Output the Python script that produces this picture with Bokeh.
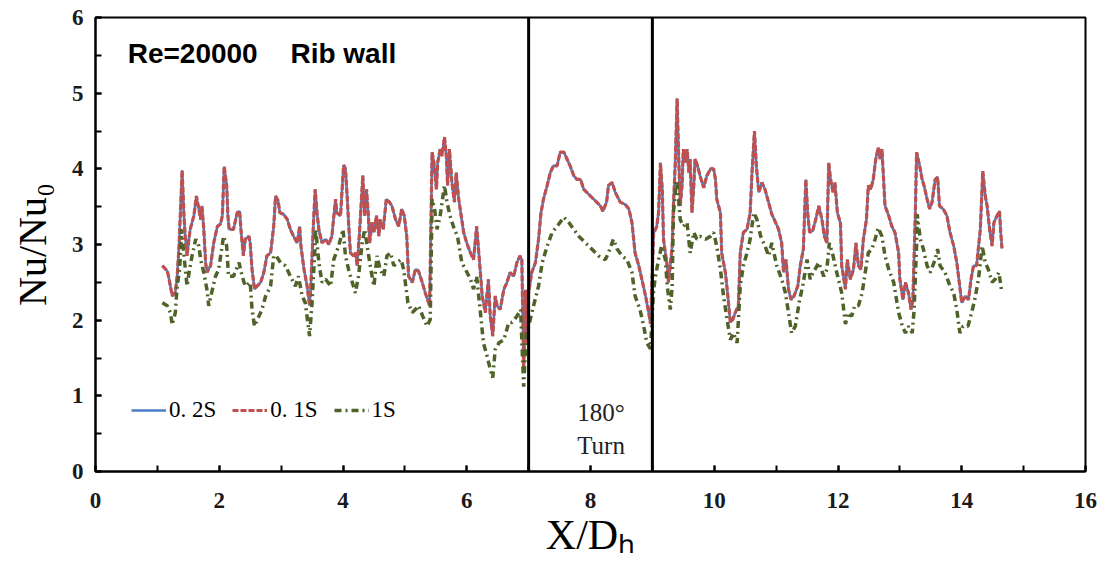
from bokeh.plotting import figure
from bokeh.models import Range1d, SingleIntervalTicker, Span, Legend, LegendItem
from bokeh.core.properties import value
from bokeh.embed import file_html
from bokeh.resources import INLINE

# ---------------- data ----------------
x_rib = [1.08, 1.16, 1.18, 1.24, 1.29, 1.32, 1.35, 1.40, 1.43, 1.45, 1.48, 1.51, 1.53, 1.56, 1.59, 1.63, 1.67, 1.70,
         1.72, 1.75, 1.78, 1.80, 1.86, 1.91, 1.97, 2.02, 2.05, 2.08, 2.12, 2.14, 2.16, 2.23, 2.29, 2.33, 2.35, 2.39,
         2.42, 2.48, 2.50, 2.53, 2.57, 2.61, 2.67, 2.72, 2.77, 2.83, 2.88, 2.91, 2.95, 2.98, 3.04, 3.10, 3.15, 3.20,
         3.26, 3.30, 3.32, 3.37, 3.42, 3.46, 3.48, 3.52, 3.55, 3.58, 3.61, 3.66, 3.72, 3.77, 3.82, 3.88, 3.90, 3.96,
         4.01, 4.04, 4.07, 4.09, 4.12, 4.17, 4.20, 4.23, 4.27, 4.32, 4.35, 4.38, 4.41, 4.43, 4.47, 4.50, 4.54, 4.58,
         4.60, 4.65, 4.70, 4.75, 4.79, 4.85, 4.90, 4.95, 4.99, 5.03, 5.06, 5.12, 5.17, 5.22, 5.28, 5.33, 5.40, 5.44,
         5.47, 5.51, 5.53, 5.57, 5.60, 5.64, 5.67, 5.69, 5.72, 5.76, 5.80, 5.83, 5.87, 5.91, 5.95, 6.00, 6.06, 6.11,
         6.16, 6.19, 6.25, 6.30, 6.35, 6.38, 6.42, 6.46, 6.49, 6.54, 6.60, 6.65, 6.70, 6.76, 6.81, 6.86, 6.89, 6.92,
         6.95, 6.98, 7.00, 7.05, 7.11, 7.16, 7.20, 7.24, 7.30, 7.35, 7.40, 7.46, 7.51, 7.57, 7.62, 7.67, 7.73, 7.78,
         7.84, 7.89, 7.94, 8.00, 8.05, 8.10, 8.16, 8.20, 8.26, 8.29, 8.35, 8.40, 8.48, 8.56, 8.62, 8.67, 8.72, 8.78,
         8.83, 8.89, 8.94, 8.97, 9.02, 9.05, 9.07, 9.10, 9.13, 9.16, 9.18, 9.21, 9.24, 9.26, 9.29, 9.32, 9.34, 9.37,
         9.40, 9.42, 9.45, 9.48, 9.50, 9.53, 9.56, 9.59, 9.61, 9.64, 9.67, 9.69, 9.73, 9.77, 9.83, 9.88, 9.94, 9.99,
         10.02, 10.04, 10.10, 10.12, 10.18, 10.22, 10.26, 10.30, 10.34, 10.39, 10.42, 10.47, 10.53, 10.58, 10.61,
         10.65, 10.68, 10.72, 10.77, 10.82, 10.88, 10.93, 10.97, 11.04, 11.09, 11.12, 11.16, 11.20, 11.24, 11.29,
         11.35, 11.39, 11.44, 11.48, 11.51, 11.54, 11.59, 11.64, 11.69, 11.74, 11.78, 11.82, 11.85, 11.88, 11.92,
         11.95, 11.99, 12.04, 12.06, 12.12, 12.15, 12.20, 12.25, 12.29, 12.33, 12.37, 12.41, 12.46, 12.49, 12.53,
         12.57, 12.61, 12.65, 12.68, 12.71, 12.76, 12.82, 12.87, 12.92, 12.98, 13.00, 13.05, 13.09, 13.14, 13.18,
         13.21, 13.25, 13.27, 13.32, 13.36, 13.39, 13.44, 13.48, 13.52, 13.57, 13.61, 13.64, 13.70, 13.76, 13.81,
         13.87, 13.92, 13.96, 14.00, 14.06, 14.11, 14.15, 14.19, 14.24, 14.30, 14.34, 14.38, 14.41, 14.45, 14.49,
         14.52, 14.57, 14.61, 14.63, 14.65]

nu_02s = [2.72, 2.65, 2.58, 2.32, 2.37, 2.58, 2.98, 3.98, 3.38, 3.11, 2.85, 3.07, 3.20, 3.29, 3.38, 3.64, 3.47, 3.33,
          3.51, 3.20, 2.76, 2.63, 2.72, 3.02, 3.24, 3.27, 3.38, 4.03, 3.78, 3.38, 3.20, 3.20, 3.42, 3.44, 3.20, 2.85,
          3.07, 3.11, 3.02, 2.67, 2.41, 2.45, 2.50, 2.63, 2.85, 2.89, 3.24, 3.64, 3.58, 3.42, 3.40, 3.33, 3.20, 3.11,
          3.02, 3.24, 2.98, 2.67, 2.45, 2.19, 2.45, 3.24, 3.73, 3.42, 3.20, 3.02, 3.07, 3.00, 3.11, 3.60, 3.42, 3.38,
          4.05, 4.00, 3.60, 3.29, 2.89, 2.85, 2.89, 2.72, 3.20, 3.91, 3.38, 3.73, 3.38, 3.02, 3.29, 3.16, 3.38, 3.11,
          3.33, 3.20, 3.60, 3.56, 3.51, 3.33, 3.24, 3.47, 3.38, 3.11, 2.58, 2.50, 2.67, 2.65, 2.50, 2.36, 2.19, 4.22,
          4.08, 3.73, 4.08, 4.26, 4.17, 4.42, 4.17, 3.78, 4.26, 3.82, 3.56, 3.95, 3.60, 3.38, 3.16, 3.02, 2.89, 2.80,
          3.24, 2.94, 2.32, 2.10, 2.54, 2.05, 1.79, 2.32, 2.19, 2.14, 2.41, 2.50, 2.63, 2.58, 2.76, 2.85, 2.80, 1.35,
          2.40, 1.70, 2.36, 2.63, 2.76, 3.07, 3.42, 3.60, 3.78, 3.95, 4.04, 4.04, 4.22, 4.22, 4.13, 4.04, 3.91, 3.86,
          3.86, 3.73, 3.69, 3.64, 3.60, 3.56, 3.51, 3.44, 3.56, 3.78, 3.82, 3.69, 3.56, 3.53, 3.47, 3.29, 2.89, 2.72,
          2.54, 2.32, 2.10, 1.95, 3.15, 3.20, 3.24, 3.42, 4.08, 3.73, 3.07, 2.89, 2.72, 2.50, 2.72, 2.98, 3.51, 4.08,
          4.93, 4.30, 3.51, 3.78, 4.26, 4.08, 4.26, 3.95, 4.13, 3.42, 3.78, 4.13, 4.04, 3.91, 3.75, 3.91, 4.00, 4.00,
          3.86, 3.60, 3.42, 2.89, 2.63, 2.32, 1.97, 2.01, 2.10, 2.19, 2.89, 3.16, 3.20, 3.42, 3.95,
          4.50, 4.04, 3.69, 3.82, 3.73, 3.55, 3.40, 3.33, 3.20, 3.02, 2.63, 2.80, 2.41, 2.27, 2.32,
          2.45, 2.72, 2.94, 3.86, 3.42, 3.16, 3.18, 3.33, 3.51, 3.33, 3.11, 3.02, 4.08, 3.86, 3.69,
          3.82, 3.42, 3.28, 2.72, 2.41, 2.80, 2.54, 2.67, 3.02, 2.72, 2.67, 3.07, 3.33, 3.78, 3.73,
          3.86, 4.13, 4.28, 4.13, 4.26, 3.51, 3.38, 3.24, 3.16, 2.89, 2.54, 2.27, 2.50, 2.36, 2.14,
          2.27, 3.42, 4.22, 4.04, 3.86, 3.78, 3.60, 3.47, 3.56, 3.86, 3.89, 3.51, 3.47, 3.38, 3.16,
          2.98, 2.76, 2.50, 2.23, 2.32, 2.27, 2.54, 2.72, 2.72, 3.20, 3.97, 3.64, 3.51, 3.20, 2.98,
          3.29, 3.38, 3.44, 3.16, 2.95]

# 0.1S overlies 0.2S almost exactly in the picture
nu_01s = list(nu_02s)

x_1s = [1.08, 1.16, 1.21, 1.24, 1.29, 1.32, 1.36, 1.39, 1.43, 1.48, 1.52, 1.56, 1.62, 1.67, 1.70, 1.75, 1.80, 1.83,
        1.89, 1.94, 1.99, 2.07, 2.12, 2.15, 2.23, 2.32, 2.37, 2.42, 2.50, 2.53, 2.57, 2.64, 2.69, 2.75, 2.83, 2.88,
        2.92, 2.99, 3.07, 3.15, 3.23, 3.28, 3.34, 3.39, 3.46, 3.50, 3.54, 3.56, 3.61, 3.66, 3.72, 3.80, 3.85, 3.93,
        4.00, 4.04, 4.09, 4.15, 4.20, 4.25, 4.31, 4.35, 4.39, 4.45, 4.50, 4.55, 4.60, 4.66, 4.71, 4.77, 4.82, 4.87,
        4.94, 4.98, 5.05, 5.12, 5.17, 5.22, 5.29, 5.36, 5.41, 5.44, 5.48, 5.52, 5.57, 5.64, 5.68, 5.73, 5.80, 5.85,
        5.92, 5.98, 6.06, 6.11, 6.16, 6.21, 6.27, 6.33, 6.38, 6.42, 6.46, 6.52, 6.60, 6.68, 6.73, 6.81, 6.87, 6.92,
        6.96, 7.00, 7.08, 7.16, 7.22, 7.30, 7.38, 7.46, 7.57, 7.65, 7.73, 7.81, 7.92, 8.02, 8.13, 8.24, 8.29, 8.37,
        8.43, 8.51, 8.59, 8.67, 8.72, 8.80, 8.86, 8.91, 8.97, 9.02, 9.05, 9.10, 9.15, 9.21, 9.24, 9.29, 9.32, 9.34,
        9.39, 9.42, 9.45, 9.50, 9.56, 9.61, 9.67, 9.72, 9.77, 9.86, 9.94, 9.99, 10.04, 10.10, 10.15, 10.19, 10.26,
        10.31, 10.37, 10.42, 10.47, 10.53, 10.58, 10.64, 10.69, 10.75, 10.82, 10.88, 10.93, 11.01, 11.09, 11.15,
        11.20, 11.25, 11.31, 11.38, 11.43, 11.50, 11.55, 11.60, 11.69, 11.77, 11.82, 11.86, 11.92, 11.98, 12.06,
        12.12, 12.17, 12.22, 12.27, 12.33, 12.39, 12.44, 12.49, 12.55, 12.60, 12.65, 12.71, 12.76, 12.82, 12.90,
        12.98, 13.04, 13.09, 13.14, 13.20, 13.23, 13.27, 13.28, 13.33, 13.38, 13.44, 13.49, 13.57, 13.61, 13.65,
        13.73, 13.81, 13.87, 13.92, 13.97, 14.02, 14.10, 14.16, 14.21, 14.27, 14.33, 14.38, 14.43, 14.49, 14.54,
        14.60, 14.65]

nu_1s = [2.23, 2.19, 2.10, 1.94, 2.10, 2.45, 2.67, 3.20, 2.85, 2.45, 2.67, 2.85, 3.07, 2.98, 2.80, 2.63, 2.41, 2.19,
         2.41, 2.58, 2.67, 3.11, 2.98, 2.58, 2.58, 2.76, 2.58, 2.45, 2.50, 2.14, 1.92, 2.05, 2.14, 2.32, 2.45, 2.85,
         2.85, 2.76, 2.72, 2.58, 2.45, 2.58, 2.32, 2.23, 1.79, 2.23, 2.85, 3.20, 2.76, 2.50, 2.54, 2.45, 2.80, 2.98,
         3.20, 2.85, 2.67, 2.50, 2.36, 2.58, 3.02, 3.20, 2.98, 2.67, 2.45, 2.85, 2.67, 2.58, 2.85, 2.89, 2.72, 2.76,
         2.80, 2.67, 2.23, 2.10, 2.14, 2.19, 2.05, 1.92, 2.01, 3.60, 3.47, 3.20, 3.38, 3.78, 3.56, 3.38, 3.20, 3.11,
         2.76, 2.67, 2.54, 2.41, 2.58, 2.19, 1.70, 1.52, 1.35, 1.24, 1.61, 1.70, 1.74, 1.97, 1.97, 2.05, 2.14, 1.12,
         1.80, 1.92, 2.19, 2.45, 2.76, 2.98, 3.16, 3.24, 3.36, 3.29, 3.20, 3.11, 3.02, 2.94, 2.85, 2.80, 2.89, 3.07,
         2.94, 2.85, 2.80, 2.63, 2.32, 2.14, 1.92, 1.70, 1.62, 2.40, 2.58, 2.80, 2.98, 2.80, 2.45, 2.14, 2.45, 3.42,
         3.85, 3.64, 3.33, 3.24, 3.29, 2.89, 3.16, 3.07, 3.11, 3.07, 3.11, 3.16, 2.98, 2.67, 2.32, 2.10, 1.74,
         1.83, 1.70, 2.45, 2.72, 2.89, 3.07, 3.42, 3.33, 3.11, 2.98, 2.85, 3.02, 2.72, 2.54, 2.36,
         2.10, 1.83, 1.92, 2.27, 2.45, 2.80, 2.54, 2.63, 2.76, 2.58, 2.67, 3.02, 2.85, 2.63, 2.36,
         1.95, 2.10, 2.05, 2.19, 2.19, 2.36, 2.63, 2.89, 2.94, 3.07, 3.22, 3.11, 2.85, 2.67, 2.50,
         2.10, 1.92, 1.83, 1.92, 1.83, 2.14, 2.98, 3.40, 3.07, 2.94, 2.72, 2.63, 2.80, 2.94, 2.72,
         2.63, 2.45, 2.36, 2.14, 1.83, 1.92, 1.92, 2.10, 2.27, 2.54, 2.98, 2.76, 2.67, 2.50, 2.54,
         2.63, 2.36]

turn_edges = [7, 9]
x_ticks_major = 2
y_ticks_major = 1

BLUE = "#4a7ec4"
RED = "#c0504d"
GREEN = "#4f6228"

# ---------------- figure ----------------
p = figure(width=1100, height=560, output_backend="svg", toolbar_location=None,
           x_range=Range1d(0, 16), y_range=Range1d(0, 6),
           min_border_left=95, min_border_right=15, min_border_top=17, min_border_bottom=89)
p.background_fill_color = "white"
p.border_fill_color = "white"
p.outline_line_color = "black"
p.outline_line_width = 2
p.xgrid.visible = False
p.ygrid.visible = False

p.xaxis.ticker = SingleIntervalTicker(interval=x_ticks_major, num_minor_ticks=2)
p.yaxis.ticker = SingleIntervalTicker(interval=y_ticks_major, num_minor_ticks=2)
for ax in (p.xaxis, p.yaxis):
    ax.axis_line_color = "black"
    ax.axis_line_width = 2
    ax.major_tick_in = 6
    ax.major_tick_out = 0
    ax.minor_tick_in = 6
    ax.minor_tick_out = 0
    ax.major_tick_line_width = 2
    ax.minor_tick_line_width = 2
    ax.major_tick_line_color = "black"
    ax.minor_tick_line_color = "black"
    ax.major_label_text_font = "Liberation Serif"
    ax.major_label_text_font_style = "bold"
    ax.major_label_text_font_size = "23px"
    ax.major_label_text_color = "#1a1a1a"
    ax.axis_label_text_font = "Liberation Serif"
    ax.axis_label_text_font_style = "normal"
    ax.axis_label_text_color = "black"

p.xaxis.major_label_standoff = 21
p.yaxis.major_label_standoff = 12
p.xaxis.axis_label = "X/Dₕ"
p.yaxis.axis_label = "Nu/Nu₀"
p.xaxis.axis_label_text_font_size = "42px"
p.yaxis.axis_label_text_font_size = "40px"
p.xaxis.axis_label_standoff = 1
p.yaxis.axis_label_standoff = 14

# turn section boundaries
for xe in turn_edges:
    p.add_layout(Span(location=xe, dimension="height", line_color="black", line_width=3))

# series
r02 = p.line(x_rib, nu_02s, line_color=BLUE, line_width=2.5)
r01 = p.line(x_rib, nu_01s, line_color=RED, line_width=3.2, line_dash="6 2")
r1 = p.line(x_1s, nu_1s, line_color=GREEN, line_width=3.5, line_dash="7 4 2 4")

legend = Legend(items=[LegendItem(label="0. 2S", renderers=[r02]),
                       LegendItem(label="0. 1S", renderers=[r01]),
                       LegendItem(label="1S", renderers=[r1])],
                orientation="horizontal", location=(36, 48),
                glyph_width=35, glyph_height=20, label_standoff=3, spacing=16,
                padding=4, margin=0, border_line_color=None, background_fill_alpha=0,
                label_text_font="Liberation Serif", label_text_font_size="23px",
                label_text_color="black")
p.add_layout(legend, "center")

# annotations
p.text(x=[0.52], y=[5.52], text=["Re=20000"], text_font=value("Liberation Sans"), text_font_style="bold",
       text_font_size="28px", text_baseline="middle", text_align="left", text_color="black")
p.text(x=[3.15], y=[5.52], text=["Rib wall"], text_font=value("Liberation Sans"), text_font_style="bold",
       text_font_size="28px", text_baseline="middle", text_align="left", text_color="black")
p.text(x=[8.17], y=[0.78], text=["180°"], text_font=value("Liberation Serif"),
       text_font_size="25px", text_baseline="middle", text_align="center", text_color="#222222")
p.text(x=[8.17], y=[0.35], text=["Turn"], text_font=value("Liberation Serif"),
       text_font_size="25px", text_baseline="middle", text_align="center", text_color="#222222")

open("out.html", "w").write(file_html(p, INLINE))
